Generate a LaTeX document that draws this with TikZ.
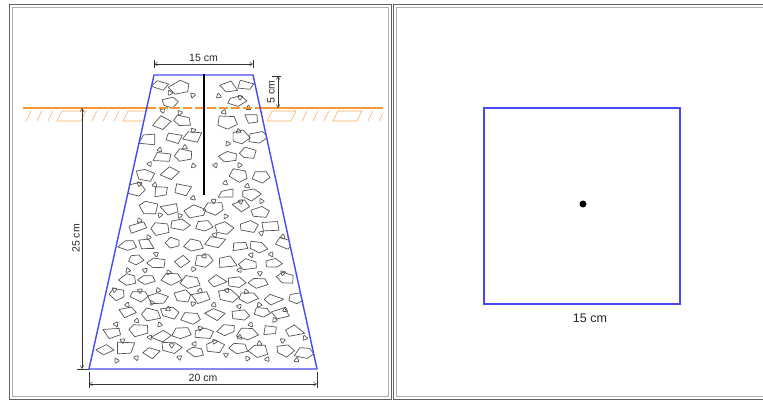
\documentclass[tikz,border=0pt]{standalone}
\usepackage{fontspec}
\setmainfont{Liberation Sans}
\usetikzlibrary{arrows.meta}
\definecolor{wallblue}{RGB}{72,72,245}
\definecolor{groundorange}{RGB}{247,150,50}
\definecolor{stonegray}{RGB}{85,85,85}
\begin{document}
\begin{tikzpicture}[x=1pt,y=-1pt,
  frameout/.style={draw=black!62,line width=0.9pt},
  framein/.style={draw=black!32,line width=0.9pt},
  wall/.style={draw=wallblue,line width=1.4pt,line join=round},
  stone/.style={draw=stonegray,line width=0.7pt,line join=round},
  pebble/.style={draw=stonegray,line width=0.7pt,rounded corners=0.8pt},
  groundline/.style={draw=groundorange,line width=1.2pt},
  hatch/.style={draw=groundorange!80,line width=0.6pt},
  dimline/.style={draw=black!80,line width=0.5pt,
    {Straight Barb[length=3pt,width=3.5pt]}-{Straight Barb[length=3pt,width=3.5pt]}},
  ext/.style={draw=black!80,line width=0.5pt},
  dimtext/.style={font=\fontsize{10.5}{10}\selectfont,text=black!85,inner sep=0pt},
]
\useasboundingbox (0,0) rectangle (763,401);

% panel frames (double grey rule)
\draw[frameout] (9,4) rectangle (391,399);
\draw[framein] (12,7) rectangle (388,396);
\draw[frameout] (393,4) rectangle (772,399);
\draw[framein] (396,7) rectangle (769,396);

% footing section corners
\coordinate (TL) at (154,75);
\coordinate (TR) at (253,75);
\coordinate (BR) at (317,369);
\coordinate (BL) at (89,369);

% ground hatching on both sides of the footing
\begin{scope}
  \clip (23,109) -- (146.7,109) -- (144,123) -- (23,123) -- cycle;
  \foreach \u in {26,92} {
    \foreach \d in {0,11,22} \draw[hatch] (\u+\d,121) -- (\u+\d+5,111);
    \draw[hatch] (\u+31,121) -- (\u+36,111) -- (\u+60,111) -- (\u+55,121) -- cycle;
  }
\end{scope}
\begin{scope}
  \clip (260.2,109) -- (383,109) -- (383,123) -- (263,123) -- cycle;
  \foreach \u in {236,302,368} {
    \foreach \d in {0,11,22} \draw[hatch] (\u+\d,121) -- (\u+\d+5,111);
    \draw[hatch] (\u+31,121) -- (\u+36,111) -- (\u+60,111) -- (\u+55,121) -- cycle;
  }
\end{scope}

% aggregate stones inside the footing
\begin{scope}
  \clip (TL) -- (TR) -- (BR) -- (BL) -- cycle;
  \pgfmathsetseed{42}
  \foreach \r in {0,...,16} {
    \foreach \c in {0,...,10} {
      \pgfmathsetmacro{\cy}{86+\r*17.6+3*rand}
      \pgfmathsetmacro{\cx}{92+\c*22.5+mod(\r,2)*11+3*rand}
      \pgfmathsetmacro{\xl}{154-(\cy-75)*0.2211+5}
      \pgfmathsetmacro{\xr}{253+(\cy-75)*0.2177-5}
      \pgfmathtruncatemacro{\ok}{and(and(\cx>\xl,\cx<\xr),and(\cy<361,not(and(abs(\cx-204)<13,\cy<202))))}
      \ifnum\ok=1
        \pgfmathsetmacro{\rr}{9.5+2*rnd}
        \pgfmathsetmacro{\rot}{360*rnd}
        \pgfmathtruncatemacro{\four}{rnd<0.4}
        \ifnum\four=1
          \draw[stone] plot[samples at={0,90,180,270}, variable=\t]
            ({\cx+\rr*(0.8+0.3*rnd)*cos(\t+\rot+20*rand)},{\cy+0.62*\rr*(0.8+0.3*rnd)*sin(\t+\rot+20*rand)}) -- cycle;
        \else
          \draw[stone] plot[samples at={0,72,144,216,288}, variable=\t]
            ({\cx+\rr*(0.8+0.3*rnd)*cos(\t+\rot+12*rand)},{\cy+0.62*\rr*(0.8+0.3*rnd)*sin(\t+\rot+12*rand)}) -- cycle;
        \fi
      \fi
      \pgfmathsetmacro{\sy}{\cy+9+2*rand}
      \pgfmathsetmacro{\sx}{\cx+11+2*rand}
      \pgfmathsetmacro{\xl}{154-(\sy-75)*0.2211+5}
      \pgfmathsetmacro{\xr}{253+(\sy-75)*0.2177-5}
      \pgfmathtruncatemacro{\ok}{and(and(\sx>\xl,\sx<\xr),and(and(\sy<365,rnd<0.7),not(and(abs(\sx-204)<6,\sy<200))))}
      \ifnum\ok=1
        \pgfmathsetmacro{\rot}{360*rnd}
        \draw[pebble] (\sx,\sy) +(\rot:3.2) -- +(\rot+120:3.2) -- +(\rot+240:3.2) -- cycle;
      \fi
    }
  }
\end{scope}

% ground line, dashed across the footing
\draw[groundline] (23,108) -- (146.7,108);
\draw[groundline] (260.2,108) -- (383,108);
\draw[groundline,dash pattern=on 9pt off 3pt] (146.7,108) -- (260.2,108);

% footing outline and anchor bar
\draw[wall] (TL) -- (TR) -- (BR) -- (BL) -- cycle;
\coordinate (barTop) at (204,74);
\coordinate (barEnd) at (204,195);
\draw[line width=2.8pt] (barTop) -- (barEnd);

% dimension: top width
\coordinate (t1) at (154,64);
\coordinate (t2) at (253,64);
\draw[ext] (154,60) -- (154,68);
\draw[ext] (253,60) -- (253,68);
\draw[dimline] (t1) -- node[dimtext,above=2.5pt] (wTop) {15 cm} (t2);

% dimension: embedment above ground
\coordinate (e1) at (278,76);
\coordinate (e2) at (278,108);
\draw[ext] (272,76) -- (281,76);
\draw[dimline] (e1) -- node[dimtext,rotate=90,anchor=south,yshift=3pt] (hTop) {5 cm} (e2);

% dimension: depth below ground
\coordinate (d1) at (82,108);
\coordinate (d2) at (82,369);
\draw[ext] (77,369) -- (89,369);
\draw[dimline] (d1) -- node[dimtext,rotate=90,anchor=south,yshift=2pt] (hBot) {25 cm} (d2);

% dimension: bottom width
\coordinate (b1) at (89,384);
\coordinate (b2) at (317,384);
\draw[ext] (89,372) -- (89,388);
\draw[ext] (317,372) -- (317,388);
\draw[dimline] (b1) -- node[dimtext,above=2pt] (wBot) {20 cm} (b2);

% plan view of the top face
\node[draw=wallblue,line width=1.4pt,minimum width=196pt,minimum height=196pt,inner sep=0pt] (sq) at (582,206) {};
\node[circle,fill=black,inner sep=0pt,minimum size=7pt] (dot) at (583,204) {};
\node[dimtext,font=\fontsize{12.5}{12}\selectfont] (sqLabel) at (590,318) {15 cm};
\end{tikzpicture}
\end{document}
